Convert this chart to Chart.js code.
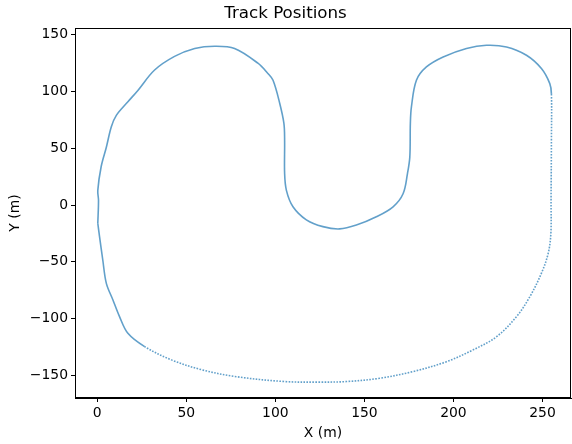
<!DOCTYPE html>
<html>
<head>
<meta charset="utf-8">
<script src="https://cdn.jsdelivr.net/npm/chart.js@4"></script>
<style>
  html, body { margin: 0; padding: 0; background: #fff; }
  #wrap { width: 572px; height: 444px; }
</style>
</head>
<body>
<div id="wrap"><canvas id="track"></canvas></div>
<script>
// track positions, in order around the lap
const trackX = [0.3, 0.7, 0.3, 2.2, 5.1, 7.9, 10.7, 17.2, 22.8, 32.2, 43.4, 54.7, 65.9, 77.1, 90.2, 95.8,
  98.7, 102.4, 104.8, 105.2, 105.2, 106.2, 109.9, 117.4, 126.7, 136.1, 145.5, 156.7, 166.1, 171.7,
  174.2, 175.5, 175.8, 176.4, 179.2, 184.8, 194.2, 207.3, 218.5, 229.8, 241, 249.4, 254.1, 255,
  255, 254.8, 254.7, 253.2, 249.4, 242.9, 235.4, 224.2, 211, 196.1, 177.3, 158.6, 139.9, 125,
  105.2, 77.1, 58.4, 41.6, 26.6, 17.2, 12.5, 8.8, 5.1, 3.1, 1.3, 0.3];
const trackY = [-16, 4, 13, 34, 51, 69, 79, 91, 101, 119, 131, 138, 140, 138, 125, 116,
  110, 90, 72, 57, 28, 13, -1.5, -13, -19, -21, -17.6, -10.3, -1.5, 10,
  28, 42.5, 72, 86.5, 110, 121.7, 130.5, 138, 140.8, 139.3, 132, 120.3, 107, 98,
  57, 4, -25, -42.5, -60, -80.7, -98.3, -116, -127.6, -138, -146.7, -152.6, -155.5, -156,
  -155.5, -151, -145, -136.4, -124.7, -113, -98.3, -83.6, -69, -48.4, -28, -16];

const xTicks = [0, 50, 100, 150, 200, 250];
const yTicks = [-150, -100, -50, 0, 50, 100, 150];

const points = trackX.map((x, i) => ({ x: x, y: trackY[i] }));
const font = 'DejaVu Sans';
const minus = v => String(v).replace('-', '\u2212');

const frame = {
  id: 'frame',
  afterDraw(chart) {
    const a = chart.chartArea;
    const c = chart.ctx;
    c.save();
    c.strokeStyle = '#000';
    c.lineWidth = 1;
    c.strokeRect(Math.round(a.left) + 0.5, Math.round(a.top) + 0.5,
      Math.round(a.right - a.left) - 1, Math.round(a.bottom - a.top) - 1);
    c.restore();
  }
};

new Chart(document.getElementById('track'), {
  type: 'scatter',
  data: {
    datasets: [{
      data: points,
      showLine: true,
      tension: 0.35,
      borderColor: 'rgba(31,119,180,0.7)',
      borderWidth: 1.6,
      pointRadius: 0,
      segment: {
        // the faster stretch shows as spaced dots in the reference
        borderDash: ctx => (ctx.p0DataIndex >= 43 && ctx.p0DataIndex < 62) ? [1.6, 1.4] : undefined
      }
    }]
  },
  options: {
    responsive: true,
    maintainAspectRatio: false,
    animation: false,
    layout: { padding: { left: 0, right: 1, top: 0, bottom: 0 } },
    plugins: {
      legend: { display: false },
      tooltip: { enabled: false },
      title: {
        display: true,
        text: 'Track Positions',
        color: '#000',
        font: { family: font, size: 16.7, weight: 'normal' },
        padding: { top: 4, bottom: 4 }
      }
    },
    scales: {
      x: {
        type: 'linear',
        min: -12.5,
        max: 266,
        afterBuildTicks: s => { s.ticks = xTicks.map(v => ({ value: v })); },
        afterFit: s => { s.height = 46; },
        grid: { drawOnChartArea: false, drawTicks: true, tickLength: 4, color: '#000' },
        border: { display: true, color: '#000' },
        ticks: { color: '#000', padding: 3, maxRotation: 0, font: { family: font, size: 13.9 }, callback: minus },
        title: {
          display: true, text: 'X (m)', color: '#000',
          font: { family: font, size: 13.9 }, padding: { top: 0, bottom: 2 }
        }
      },
      y: {
        type: 'linear',
        min: -170,
        max: 156,
        afterBuildTicks: s => { s.ticks = yTicks.map(v => ({ value: v })); },
        afterFit: s => { s.width = 75; },
        grid: { drawOnChartArea: false, drawTicks: true, tickLength: 4, color: '#000' },
        border: { display: true, color: '#000' },
        ticks: { color: '#000', padding: 3, font: { family: font, size: 13.9 }, callback: minus },
        title: {
          display: true, text: 'Y (m)', color: '#000',
          font: { family: font, size: 13.9 }, padding: { top: 7, bottom: 0 }
        }
      }
    }
  },
  plugins: [frame]
});
</script>
</body>
</html>
